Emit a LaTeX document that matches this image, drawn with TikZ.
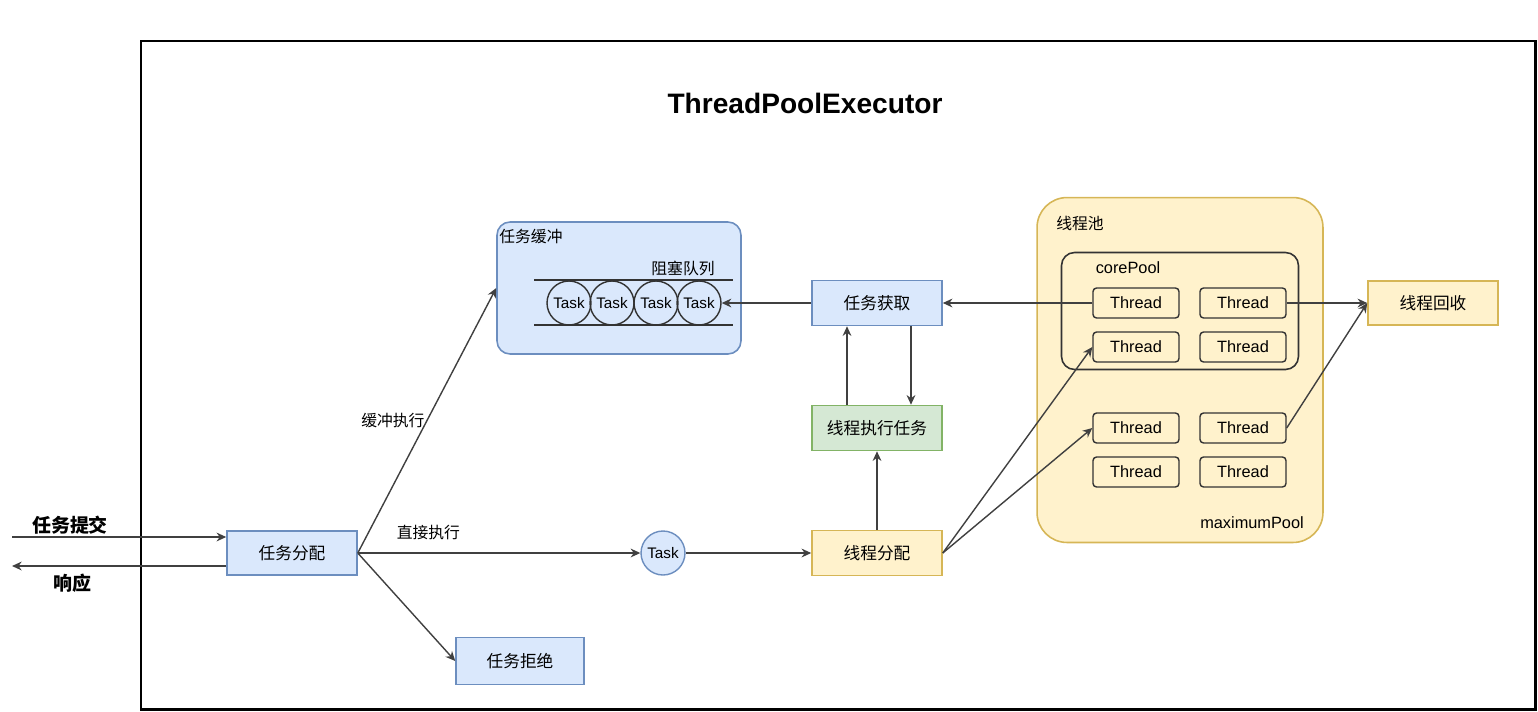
\documentclass[tikz,border=0pt]{standalone}
\usepackage{fontspec}
\setmainfont{Liberation Sans}
\newfontfamily\cjk{Noto Sans CJK SC}
\usetikzlibrary{arrows.meta}
\definecolor{bluefill}{HTML}{DAE8FC}
\definecolor{blueline}{HTML}{6C8EBF}
\definecolor{greenfill}{HTML}{D5E8D4}
\definecolor{greenline}{HTML}{82B366}
\definecolor{yellowfill}{HTML}{FFF2CC}
\definecolor{yellowline}{HTML}{D6B656}
\tikzset{%
    box/.style={draw,line width=0.9pt,minimum width=2.6cm,minimum height=0.88cm,inner sep=0pt,font=\cjk\fontsize{9.5}{11}\selectfont},
    bluebox/.style={box,draw=blueline,fill=bluefill},
    greenbox/.style={box,draw=greenline,fill=greenfill},
    yellowbox/.style={box,draw=yellowline,fill=yellowfill},
    thr/.style={draw=black!80,line width=0.8pt,rounded corners=2pt,fill=yellowfill,minimum width=1.72cm,minimum height=0.6cm,inner sep=0pt,font=\fontsize{9.3}{11}\selectfont},
    tsk/.style={circle,draw=black!80,line width=0.8pt,minimum size=0.88cm,inner sep=0pt,font=\fontsize{8.7}{10}\selectfont},
    lbl/.style={inner sep=0pt,font=\cjk\fontsize{9}{11}\selectfont},
    arr/.style={draw=black!75,line width=0.8pt,-{Stealth[length=5.5pt,width=5pt]}}
}
\begin{document}
\begin{tikzpicture}[x=0.02cm,y=-0.02cm]
        \useasboundingbox (0,0) rectangle (1538,711);
        \draw[line width=1.7pt] (141,41) rectangle (1535,709);
        \node[font=\bfseries\fontsize{16}{19}\selectfont] (title) at (805,103) {ThreadPoolExecutor};

        \node[lbl,font=\cjk\bfseries\fontsize{10.8}{13}\selectfont] (submit) at (70,525) {任务提交};
        \node[lbl,font=\cjk\bfseries\fontsize{10.8}{13}\selectfont] (reply) at (72,583) {响应};
        \coordinate (in) at (12,537);
        \coordinate (out) at (12,566);

        \node[bluebox] (assign) at (292,553) {任务分配};
        \node[bluebox,minimum width=2.56cm,minimum height=0.94cm] (reject) at (520,661) {任务拒绝};
        \node[tsk,fill=bluefill,draw=blueline] (task) at (663,553) {Task};

        \node[draw=blueline,fill=bluefill,line width=0.9pt,rounded corners=0.26cm,minimum width=4.88cm,minimum height=2.64cm] (buffer) at (619,288) {};
        \node[lbl,anchor=north west] (bufferlbl) at (499,229) {任务缓冲};
        \node[lbl] (queuelbl) at (683,268) {阻塞队列};
        \coordinate (qa) at (534,280);
        \coordinate (qb) at (733,280);
        \coordinate (qc) at (534,325);
        \coordinate (qd) at (733,325);
        \draw[line width=0.9pt,black!80] (qa) -- (qb);
        \draw[line width=0.9pt,black!80] (qc) -- (qd);
        \node[tsk] (q1) at (569,303) {Task};
        \node[tsk] (q2) at (612,303) {Task};
        \node[tsk] (q3) at (656,303) {Task};
        \node[tsk] (q4) at (699,303) {Task};

        \node[bluebox,minimum height=0.9cm] (fetch) at (877,303) {任务获取};
        \node[greenbox,minimum height=0.9cm] (exec) at (877,428) {线程执行任务};
        \node[yellowbox,minimum height=0.9cm] (dispatch) at (877,553) {线程分配};
        \node[yellowbox] (recycle) at (1433,303) {线程回收};

        \node[draw=yellowline,fill=yellowfill,line width=0.9pt,rounded corners=0.6cm,minimum width=5.72cm,minimum height=6.9cm] (pool) at (1180,370) {};
        \node[lbl] (poollbl) at (1080,223) {线程池};
        \node[lbl,font=\fontsize{9.3}{11}\selectfont] (maxlbl) at (1252,523) {maximumPool};
        \node[draw=black!80,line width=0.9pt,rounded corners=0.26cm,minimum width=4.74cm,minimum height=2.34cm] (core) at (1180,311) {};
        \node[lbl,font=\fontsize{9.3}{11}\selectfont] (corelbl) at (1128,268) {corePool};

        \node[thr] (t1) at (1136,303) {Thread};
        \node[thr] (t2) at (1243,303) {Thread};
        \node[thr] (t3) at (1136,347) {Thread};
        \node[thr] (t4) at (1243,347) {Thread};
        \node[thr] (t5) at (1136,428) {Thread};
        \node[thr] (t6) at (1243,428) {Thread};
        \node[thr] (t7) at (1136,472) {Thread};
        \node[thr] (t8) at (1243,472) {Thread};

        \draw[arr] (in) -- (in -| assign.west);
        \draw[arr] (out -| assign.west) -- (out);
        \draw[arr] (assign.east) -- (buffer.west) node[lbl,pos=0.5,left=1pt] (bufexec) {缓冲执行};
        \draw[arr] (assign.east) -- (task.west) node[lbl,pos=0.25,above=7pt] (direct) {直接执行};
        \draw[arr] (assign.east) -- (reject.west);
        \draw[arr] (task.east) -- (dispatch.west);
        \draw[arr] (fetch.west) -- (q4.east);
        \draw[arr] (t1.west) -- (fetch.east);
        \draw[arr] ([xshift=0.68cm]fetch.south) -- ([xshift=0.68cm]exec.north);
        \draw[arr] ([xshift=-0.6cm]exec.north) -- ([xshift=-0.6cm]fetch.south);
        \draw[arr] (dispatch.north) -- (exec.south);
        \draw[arr] (dispatch.east) -- (t3.west);
        \draw[arr] (dispatch.east) -- (t5.west);
        \draw[arr] (t2.east) -- (recycle.west);
        \draw[arr] (t6.east) -- (recycle.west);
    \end{tikzpicture}
\end{document}
